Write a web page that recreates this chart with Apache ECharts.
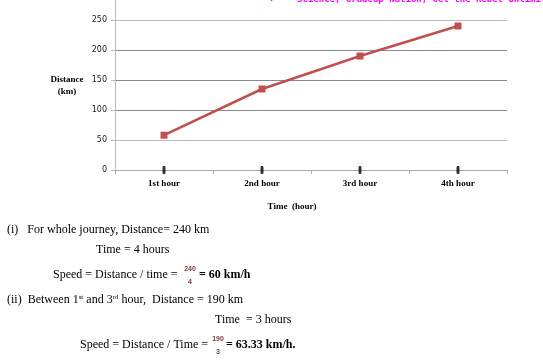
<!DOCTYPE html>
<html>
<head>
<meta charset="utf-8">
<script src="https://cdn.jsdelivr.net/npm/echarts@6/dist/echarts.min.js"></script>
<style>
html,body{margin:0;padding:0;background:#fff;}
#chart{width:543px;height:360px;}
</style>
</head>
<body>
<div id="chart"></div>
<script>
const categories = ['1st hour', '2nd hour', '3rd hour', '4th hour'];
const distance = [58, 135, 190, 240];
const baselineMarks = [0, 0, 0, 0];
const yTicks = { min: 0, max: 300, interval: 50 };
const yAxisName = ' \nDistance\n(km)';
const xAxisName = 'Time  (hour)';

const serif = '"Liberation Serif", "DejaVu Serif", serif';
const chart = echarts.init(document.getElementById('chart'), null, { renderer: 'canvas' });

function txt(x, y, text, extra) {
  return {
    type: 'text', x: x, y: y, silent: true,
    style: Object.assign({
      text: text, fontFamily: serif, fontSize: 12, fill: '#000',
      textVerticalAlign: 'middle', textAlign: 'left'
    }, extra || {})
  };
}

const fracStyle = { fontSize: 7, fontWeight: 'bold', fill: '#7b3b3b', fontFamily: '"Liberation Sans", Arial, sans-serif', textAlign: 'center' };
const supRich = { sup: { fontSize: 7, verticalAlign: 'top', padding: [0, 0, 6, 0], fontFamily: serif } };

chart.setOption({
  animation: false,
  grid: { left: 115, right: 36, top: -10, bottom: 190, containLabel: false, outerBoundsMode: 'none' },
  xAxis: {
    type: 'category',
    data: categories,
    boundaryGap: true,
    name: xAxisName,
    nameLocation: 'middle',
    nameGap: 32,
    nameTextStyle: { fontFamily: serif, fontWeight: 'bold', fontSize: 9, color: '#000', align: 'center', padding: [0, 38, 0, 0] },
    axisLine: { lineStyle: { color: '#aaa', width: 1 } },
    axisTick: { show: true, alignWithLabel: false, length: 4, lineStyle: { color: '#aaa' } },
    axisLabel: { fontFamily: serif, fontWeight: 'bold', fontSize: 9, color: '#000', margin: 9 }
  },
  yAxis: {
    type: 'value',
    min: yTicks.min, max: yTicks.max, interval: yTicks.interval,
    name: yAxisName,
    nameLocation: 'middle',
    nameRotate: 0,
    nameGap: 48,
    nameTextStyle: { fontFamily: serif, fontWeight: 'bold', fontSize: 9, color: '#000', align: 'center', verticalAlign: 'middle', lineHeight: 12 },
    axisLine: { show: true, lineStyle: { color: '#bbb', width: 1 } },
    axisTick: { show: true, length: 4, lineStyle: { color: '#bbb' } },
    axisLabel: { fontFamily: '"DejaVu Sans", Verdana, sans-serif', fontSize: 8, color: '#222', margin: 8 },
    splitLine: { show: true, lineStyle: { color: ['#bbb', '#bbb', '#8a8a8a', '#8a8a8a', '#8a8a8a', '#bbb', '#bbb'], width: 1 } }
  },
  series: [
    {
      type: 'line',
      data: distance,
      symbol: 'rect',
      symbolSize: 7,
      lineStyle: { color: '#c0504d', width: 2.5 },
      itemStyle: { color: '#c0504d' },
      z: 3
    },
    {
      type: 'scatter',
      data: baselineMarks,
      symbol: 'roundRect',
      symbolSize: [3, 8],
      itemStyle: { color: '#000' },
      z: 4
    }
  ],
  graphic: [
    txt(270, 0, '\u2713    Science, Gradeup Nation, Get the Rebel Unlimited', { fill: '#ff00ff', fontSize: 9, fontWeight: 'bold', fontFamily: '"DejaVu Sans Mono", monospace' }),
    txt(7, 230, '(i)   For whole journey, Distance= 240 km'),
    txt(96, 250, 'Time = 4 hours'),
    txt(53, 275, 'Speed = Distance / time ='),
    txt(190, 269, '240', fracStyle),
    txt(190, 282, '4', fracStyle),
    txt(199, 275, '= 60 km/h', { fontWeight: 'bold' }),
    txt(7, 300, '(ii)  Between 1{sup|st} and 3{sup|rd} hour,  Distance = 190 km', { rich: supRich }),
    txt(215, 320, 'Time  = 3 hours'),
    txt(80, 345, 'Speed = Distance / Time ='),
    txt(218, 339, '190', fracStyle),
    txt(218, 352, '3', fracStyle),
    txt(226, 345, '= 63.33 km/h.', { fontWeight: 'bold' })
  ]
});
</script>
</body>
</html>
